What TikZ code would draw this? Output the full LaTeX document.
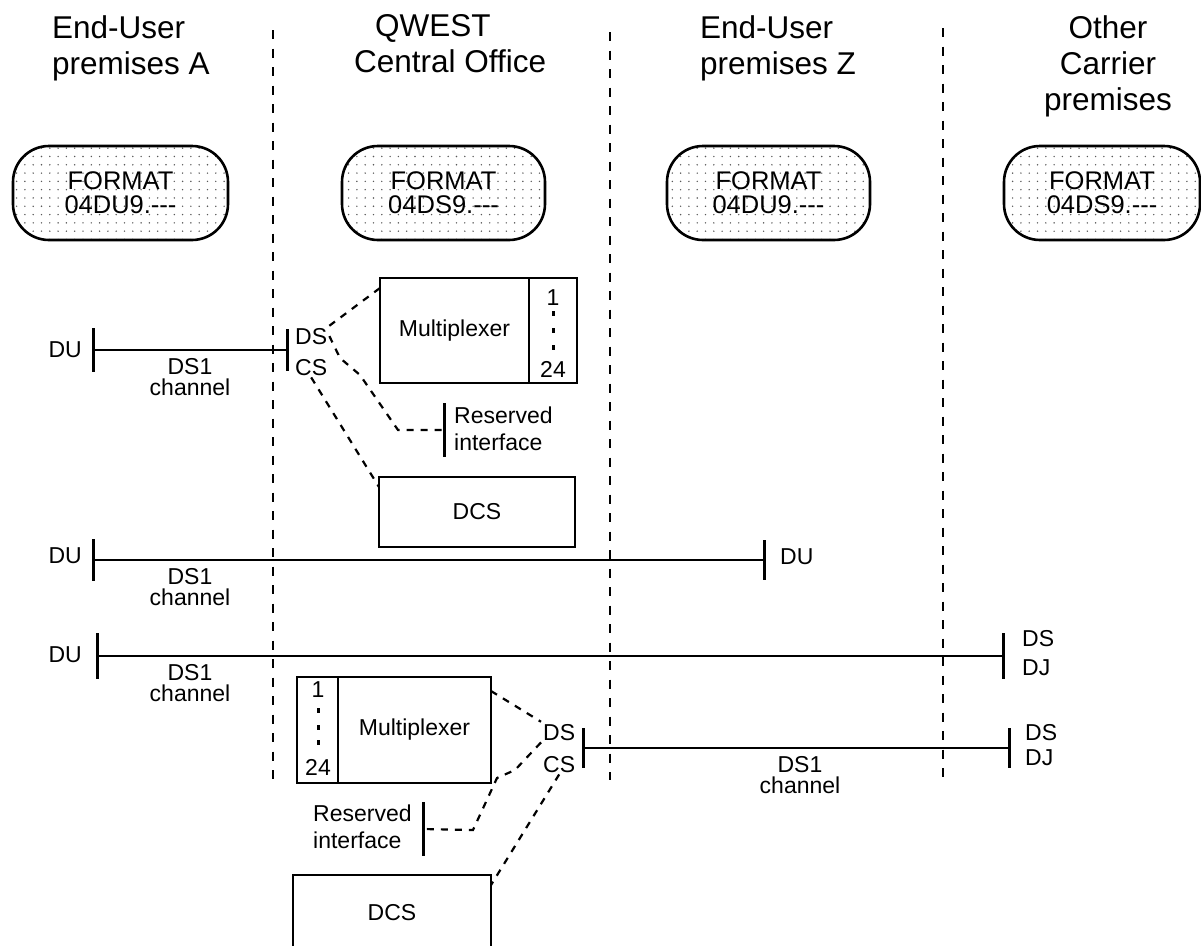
\documentclass[tikz,border=0pt]{standalone}
\usepackage{fontspec}
\setmainfont{Liberation Sans}
\usetikzlibrary{positioning,patterns.meta}
\newcommand{\hdrfont}{\fontsize{31.5}{36}\selectfont}
\newcommand{\lblfont}{\fontsize{23}{27}\selectfont}
\newcommand{\fmtfont}{\fontsize{25.5}{24}\selectfont}
\newcommand{\chfont}{\fontsize{23}{21}\selectfont}
\begin{document}
\begin{tikzpicture}[
	x=1pt, y=-1pt,
	hdr/.style={font=\hdrfont, inner sep=0pt, anchor=north},
	lbl/.style={font=\lblfont, inner sep=2pt},
	chlbl/.style={font=\chfont, align=center, inner sep=0pt, anchor=north},
	pill/.style={draw, line width=2.6pt, rounded corners=36pt, minimum width=203pt, minimum height=94pt,
		pattern={Dots[distance=8.3pt, radius=0.8pt]}, pattern color=black!65,
		font=\fmtfont, align=center, inner sep=0pt},
	box/.style={draw, line width=2.6pt, minimum height=105pt, inner sep=0pt, outer sep=0pt, font=\lblfont},
	divider/.style={line width=2.6pt, dash pattern=on 9pt off 9.5pt},
	link/.style={line width=2.2pt, dash pattern=on 7pt off 7pt},
	chan/.style={line width=2.6pt},
	tickbar/.style={line width=3pt},
	chdot/.style={fill, minimum width=3pt, minimum height=5pt, inner sep=0pt}
]
\useasboundingbox (0,0) rectangle (1201,945);

% Column headings
\node[hdr, anchor=north west, align=left] (hA) at (52,15) {End-User\\premises A};
\node[hdr, anchor=north west, align=left] (hCO) at (354,14) {\hspace*{21pt}QWEST\\Central Office};
\node[hdr, anchor=north west, align=left] (hZ) at (700,15) {End-User\\premises Z};
\node[hdr, align=center] (hOC) at (1108,15) {Other\\Carrier\\premises};

% Premises boundaries
\coordinate (bd1t) at (273,30);
\coordinate (bd1b) at (273,783);
\coordinate (bd2t) at (610,32);
\coordinate (bd2b) at (610,780);
\coordinate (bd3t) at (943,28);
\coordinate (bd3b) at (943,780);
\draw[divider] (bd1t) -- (bd1b);
\draw[divider] (bd2t) -- (bd2b);
\draw[divider] (bd3t) -- (bd3b);

% Format tags
\node[pill, minimum width=215pt] (fA) at (120.5,193) {FORMAT\\04DU9.{-}{-}{-}};
\node[pill] (fCO) at (443.5,193) {FORMAT\\04DS9.{-}{-}{-}};
\node[pill] (fZ) at (768.5,193) {FORMAT\\04DU9.{-}{-}{-}};
\node[pill, minimum width=196pt] (fOC) at (1102,193) {FORMAT\\04DS9.{-}{-}{-}};

% Upper multiplexer with channel side
\node[box, minimum width=149pt] (mux1) at (454.5,330.5) {Multiplexer};
\node[box, minimum width=48pt, anchor=west] (mux1ch) at (mux1.east) {};
\node[lbl, anchor=base] (mux1n1) at (553,305) {1};
\node[lbl, anchor=base] (mux1n24) at (553,377) {24};
\foreach \y in {313,330,347}
	\node[chdot] at (553,\y) {};

% Row 1: A to central office
\coordinate (a1) at (93,350);
\coordinate (co1) at (287,350);
\draw[tickbar] ([yshift=22pt]a1) -- ([yshift=-22pt]a1);
\draw[tickbar] ([yshift=21pt]co1) -- ([yshift=-21pt]co1);
\draw[chan] (a1) -- (co1);
\node[lbl, anchor=base east] (du1) at (84,357) {DU};
\node[chlbl] (ch1) at (190,358.5) {DS1\\channel};
\node[lbl, anchor=base west] (ds1) at (293,344) {DS};
\node[lbl, anchor=base west] (cs1) at (293,375) {CS};

% Upper reserved interface and DCS
\coordinate (r1) at (444,430);
\draw[tickbar] ([yshift=27pt]r1) -- ([yshift=-27pt]r1);
\node[lbl, anchor=north west, align=left, inner sep=0pt] (res1) at (454,406.5) {Reserved\\interface};
\node[box, minimum width=196pt, minimum height=70pt] (dcs1) at (477,512) {DCS};

\draw[link] (ds1.north east) -- ([yshift=-10pt]mux1.north west);
\draw[link] (ds1.east) -- (340,358) -- (360,375) -- (398,430) -- (r1);
\draw[link] (cs1.south) -- ([yshift=-10pt]dcs1.north west);

% Row 2: A to Z
\coordinate (a2) at (93,560);
\coordinate (z2) at (764,560);
\draw[tickbar] ([yshift=21pt]a2) -- ([yshift=-21pt]a2);
\draw[tickbar] ([yshift=20pt]z2) -- ([yshift=-20pt]z2);
\draw[chan] (a2) -- (z2);
\node[lbl, anchor=base east] (du2) at (84,563) {DU};
\node[lbl, anchor=base west] (du2z) at (778,564) {DU};
\node[chlbl] (ch2) at (190,568.5) {DS1\\channel};

% Row 3: A to other carrier
\coordinate (a3) at (97,656);
\coordinate (oc3) at (1003,656);
\draw[tickbar] ([yshift=23pt]a3) -- ([yshift=-23pt]a3);
\draw[tickbar] ([yshift=23pt]oc3) -- ([yshift=-23pt]oc3);
\draw[chan] (a3) -- (oc3);
\node[lbl, anchor=base east] (du3) at (84,662) {DU};
\node[chlbl] (ch3) at (190,664.5) {DS1\\channel};
\node[lbl, anchor=base west] (ds3) at (1020,646) {DS};
\node[lbl, anchor=base west] (dj3) at (1020,675) {DJ};

% Lower multiplexer with channel side
\node[box, minimum width=153pt, minimum height=106pt] (mux2) at (414.5,730) {Multiplexer};
\node[box, minimum width=41pt, minimum height=106pt, anchor=east] (mux2ch) at (mux2.west) {};
\node[lbl, anchor=base] (mux2n1) at (318,697) {1};
\node[lbl, anchor=base] (mux2n24) at (318,775) {24};
\foreach \y in {710,727,742}
	\node[chdot] at (318,\y) {};

% Row 4: central office to other carrier
\coordinate (d4) at (583,748);
\coordinate (oc4) at (1009,748);
\draw[tickbar] ([yshift=20pt]d4) -- ([yshift=-20pt]d4);
\draw[tickbar] ([yshift=20pt]oc4) -- ([yshift=-20pt]oc4);
\draw[chan] (d4) -- (oc4);
\node[lbl, anchor=base west] (ds2) at (541,740) {DS};
\node[lbl, anchor=base west] (cs2) at (541,772) {CS};
\node[chlbl] (ch4) at (800,756.5) {DS1\\channel};
\node[lbl, anchor=base west] (ds4) at (1023,740) {DS};
\node[lbl, anchor=base west] (dj4) at (1023,765) {DJ};

% Lower reserved interface and DCS
\coordinate (r2) at (423,829);
\draw[tickbar] ([yshift=27pt]r2) -- ([yshift=-27pt]r2);
\node[lbl, anchor=north west, align=left, inner sep=0pt] (res2) at (313,805) {Reserved\\interface};
\node[box, minimum width=198pt, minimum height=76pt] (dcs2) at (392,913) {DCS};

\draw[link] ([yshift=-14pt]mux2.north east) -- (ds2.north west);
\draw[link] (ds2.south west) -- (515,770) -- (497,778) -- (473,830) -- (r2);
\draw[link] (cs2.south) -- ([yshift=-10pt]dcs2.north east);
\end{tikzpicture}
\end{document}
